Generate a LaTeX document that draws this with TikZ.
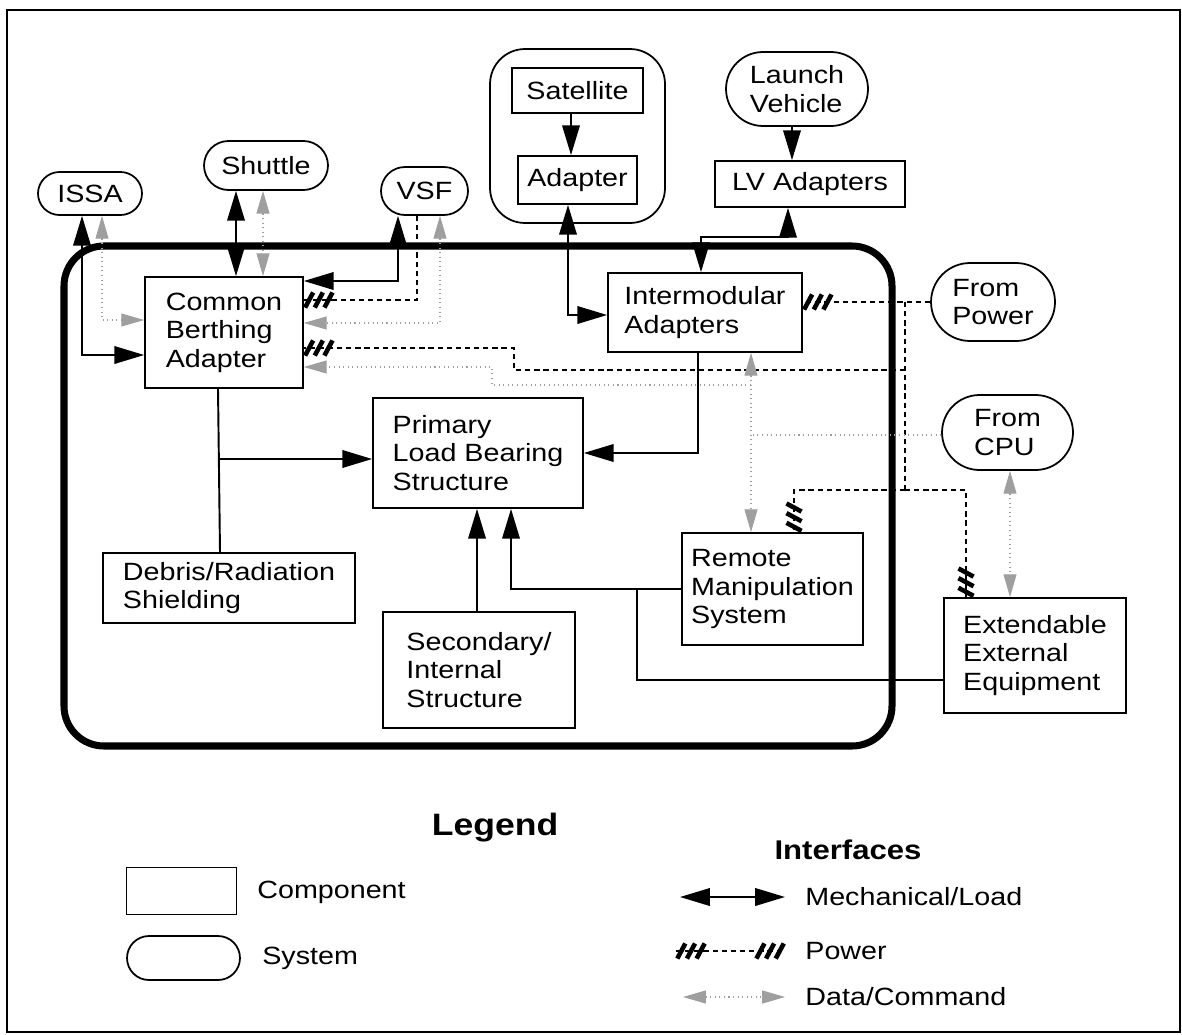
\documentclass[tikz,border=0pt]{standalone}
\usepackage{fontspec}
\setmainfont{Liberation Sans}[FakeStretch=1.15]
\usetikzlibrary{arrows.meta,shapes.misc,decorations.markings}

\newcommand{\bodyfont}{\fontsize{14.2}{16.2}\selectfont}
% hatched tip of a power line
\newcommand{\pwrhatch}{%
  \foreach \d in {3,8.5,14}
    \draw[solid, line width=2.6pt] (-\d pt-2.3pt,-4.3pt) -- (-\d pt+2.3pt,4.3pt);}

\tikzset{
  comp/.style={draw, line width=1pt, rectangle, align=left, inner sep=0pt},
  sys/.style={draw, line width=1pt, rounded rectangle, align=left, inner sep=0pt},
  lbl/.style={anchor=west, inner sep=0pt},
  mechline/.style={line width=1.1pt},
  mech/.style={mechline, {Triangle[length=17pt,width=10pt]}-{Triangle[length=17pt,width=10pt]}},
  mechto/.style={mechline, -{Triangle[length=17pt,width=10pt]}},
  datline/.style={gray!75, dotted, line width=0.6pt},
  dat/.style={datline, {Triangle[length=13pt,width=7.4pt]}-{Triangle[length=13pt,width=7.4pt]}},
  datto/.style={datline, -{Triangle[length=13pt,width=7.4pt]}},
  pwrline/.style={dashed, line width=1pt, dash pattern=on 3pt off 2.2pt},
  pwr/.style={pwrline, postaction={decorate, decoration={markings, mark=at position 1 with {\pwrhatch}}}},
  pwr2/.style={pwrline, postaction={decorate, decoration={markings,
      mark=at position 0 with {\pgftransformrotate{180}\pwrhatch},
      mark=at position 1 with {\pwrhatch}}}}
}

\begin{document}
\begin{tikzpicture}[x=0.02cm, y=-0.02cm, font=\bodyfont]
\useasboundingbox (0,0) rectangle (1182,1034);
\draw[line width=1.2pt] (7,10) rectangle (1180,1032);

% module boundary
\draw[line width=4pt, rounded corners=0.8cm] (64,246) rectangle (892,746);

% systems
\node[draw, line width=1pt, rounded corners=0.7cm, minimum width=3.5cm, minimum height=3.48cm] (satsys) at (577.5,136) {};
\node[sys, minimum width=2.08cm, minimum height=0.86cm] (issa) at (90,193.5) {ISSA};
\node[sys, minimum width=2.48cm, minimum height=0.98cm] (shu) at (266,165.5) {Shuttle};
\node[sys, minimum width=1.74cm, minimum height=0.96cm] (vsf) at (424.5,191) {VSF};
\node[sys, minimum width=2.84cm, minimum height=1.48cm] (lv) at (797,89) {Launch\\Vehicle};
\node[sys, minimum width=2.48cm, minimum height=1.56cm] (fpw) at (993,302) {From\\Power};
\node[sys, minimum width=2.62cm, minimum height=1.5cm] (fcpu) at (1007.5,432.5) {From\\CPU};

% components
\node[comp, minimum width=2.62cm, minimum height=0.9cm] (sat) at (577.5,90.5) {Satellite};
\node[comp, minimum width=2.38cm, minimum height=0.96cm] (adp) at (577.5,180) {Adapter};
\node[comp, minimum width=3.8cm, minimum height=0.92cm] (lva) at (810,184) {LV Adapters};
\node[comp, minimum width=3.16cm, minimum height=2.22cm] (cba) at (224,332.5) {Common\\Berthing\\Adapter};
\node[comp, minimum width=3.88cm, minimum height=1.58cm] (ima) at (705,312.5) {Intermodular\\Adapters};
\node[comp, minimum width=4.2cm, minimum height=2.2cm] (plb) at (478,453) {Primary\\Load Bearing\\Structure};
\node[comp, minimum width=5.04cm, minimum height=1.4cm] (drs) at (229,588) {Debris/Radiation\\Shielding};
\node[comp, minimum width=3.84cm, minimum height=2.32cm] (sis) at (479,670) {Secondary/\\Internal\\Structure};
\node[comp, minimum width=3.62cm, minimum height=2.24cm] (rms) at (772.5,589) {Remote\\Manipulation\\System};
\node[comp, minimum width=3.64cm, minimum height=2.3cm] (eee) at (1035,655.5) {Extendable\\External\\Equipment};

% mechanical / load
\draw[mech] (82,0 |- issa.south) |- (cba.west |- 0,355);
\draw[mech] (236,0 |- shu.south) -- (236,0 |- cba.north);
\draw[mech] (398,0 |- vsf.south) |- (cba.east |- 0,281);
\draw[mech] (568,0 |- adp.south) |- (ima.west |- 0,315);
\draw[mech] (788,0 |- lva.south) -- (788,237) -| (701,0 |- ima.north);
\draw[mechto] (571,0 |- sat.south) -- (571,0 |- adp.north);
\draw[mechto] (792,0 |- lv.south) -- (792,0 |- lva.north);
\coordinate (cj) at (219,459);
\draw[mechline] (218,0 |- cba.south) -- (220,0 |- drs.north);
\draw[mechto] (cj) -- (plb.west |- cj);
\draw[mechto] (698,0 |- ima.south) |- (plb.east);
\draw[mechto] (477,0 |- sis.north) -- (477,0 |- plb.south);
\draw[mechto] (rms.west) -| (511,0 |- plb.south);
\draw[mechline] (eee.west |- 0,680) -| (637,0 |- rms.west);

% power
\coordinate (pa) at (905,302);
\coordinate (pb) at (905,370);
\coordinate (pc) at (905,490);
\draw[pwrline] (pa) -- (pc);
\draw[pwr] (fpw.west) -- (ima.east |- fpw.west);
\draw[pwr] (pb) -- (514,370) -- (514,348) -- (cba.east |- 0,348);
\draw[pwr] (pc) -| (794,0 |- rms.north);
\draw[pwr] (pc) -| (966,0 |- eee.north);
\draw[pwr] (417,0 |- vsf.south) |- (cba.east |- 0,300);

% data / command
\coordinate (da) at (751,435);
\coordinate (db) at (751,385);
\draw[dat] (751,0 |- ima.south) -- (751,0 |- rms.north);
\draw[datline] (fcpu.west |- da) -- (da);
\draw[datto] (db) -- (492,385) -- (492,367) -- (cba.east |- 0,367);
\draw[dat] (102,0 |- issa.south) |- (cba.west |- 0,320);
\draw[dat] (263,0 |- shu.south) -- (263,0 |- cba.north);
\draw[dat] (440,0 |- vsf.south) |- (cba.east |- 0,323);
\draw[dat] (1010,0 |- fcpu.south) -- (1010,0 |- eee.north);

% legend
\node[font=\bfseries\fontsize{17.6}{20}\selectfont] (legtitle) at (495,828) {Legend};
\node[font=\bfseries\fontsize{15.4}{18}\selectfont] (ifctitle) at (848,850) {Interfaces};
\node[comp, minimum width=2.2cm, minimum height=0.94cm] (legcomp) at (181.5,891) {};
\node[lbl] (legcomptxt) at (257,892) {Component};
\node[sys, minimum width=2.26cm, minimum height=0.88cm] (legsys) at (183.5,958) {};
\node[lbl] (legsystxt) at (262,958) {System};
\node[lbl] (legmech) at (805,897) {Mechanical/Load};
\node[lbl] (legpwr) at (805,951) {Power};
\node[lbl] (legdat) at (805,997) {Data/Command};
\draw[mech] ([xshift=-2.5cm]legmech.west) -- ([xshift=-0.4cm]legmech.west);
\draw[pwr2] ([xshift=-2.58cm]legpwr.west) -- ([xshift=-0.4cm]legpwr.west);
\draw[dat] ([xshift=-2.44cm]legdat.west) -- ([xshift=-0.4cm]legdat.west);
\end{tikzpicture}
\end{document}
